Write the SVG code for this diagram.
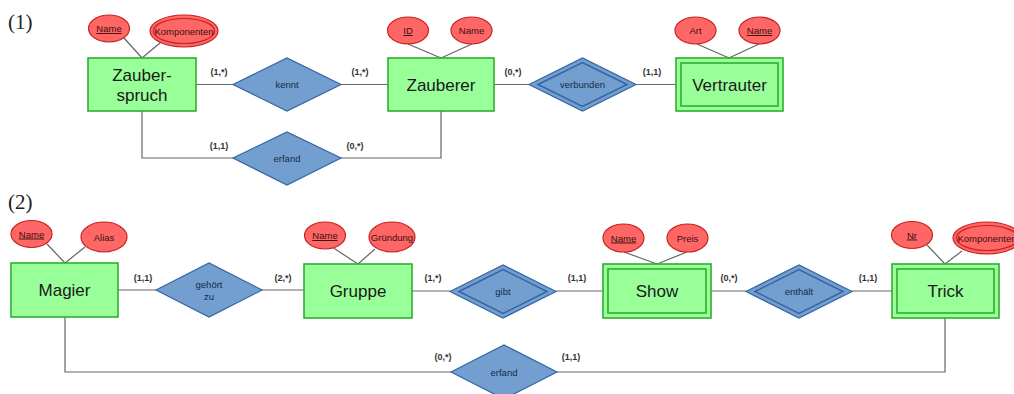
<svg xmlns="http://www.w3.org/2000/svg" width="1014" height="394" viewBox="0 0 1014 394">
<style>
.ent{fill:#99ff99;stroke:#2fae2f;stroke-width:1.6}
.inner{fill:none;stroke:#2fae2f;stroke-width:1.6}
.att{fill:#ff6666;stroke:#c9211e;stroke-width:1.2}
.attin{fill:none;stroke:#c9211e;stroke-width:1.2}
.rel{fill:#729fcf;stroke:#3465a4;stroke-width:1.2}
.relin{fill:none;stroke:#3465a4;stroke-width:1.5}
.ln{fill:none;stroke:#666;stroke-width:1.2}
.et{font-family:"Liberation Sans",Arial,sans-serif;font-size:17px;fill:#1a1a1a;text-anchor:middle}
.at{font-family:"Liberation Sans",Arial,sans-serif;font-size:9.5px;fill:#3a1010;text-anchor:middle}
.u{text-decoration:underline}
.rt{font-family:"Liberation Sans",Arial,sans-serif;font-size:9.5px;fill:#1a2a44;text-anchor:middle}
.ct{font-family:"Liberation Sans",Arial,sans-serif;font-size:9px;font-weight:bold;fill:#333;text-anchor:middle}
.num{font-family:"Liberation Serif","Times New Roman",serif;font-size:21px;fill:#222}
</style>
<text class="num" x="8" y="29">(1)</text>
<text class="num" x="8" y="209">(2)</text>
<g id="connectors">
<line class="ln" x1="124" y1="38" x2="142" y2="58"/>
<line class="ln" x1="160" y1="43" x2="142" y2="58"/>
<line class="ln" x1="408" y1="44" x2="441" y2="58"/>
<line class="ln" x1="472" y1="44" x2="441" y2="58"/>
<line class="ln" x1="697" y1="44" x2="729" y2="58"/>
<line class="ln" x1="759" y1="44" x2="729" y2="58"/>
<line class="ln" x1="196" y1="84.5" x2="233" y2="84.5"/>
<line class="ln" x1="341" y1="84.5" x2="388" y2="84.5"/>
<line class="ln" x1="494" y1="84.5" x2="529" y2="84.5"/>
<line class="ln" x1="636" y1="84.5" x2="676" y2="84.5"/>
<polyline class="ln" points="142,111 142,158 233,158"/>
<polyline class="ln" points="341,158 441,158 441,111"/>
<line class="ln" x1="47" y1="244" x2="65" y2="263"/>
<line class="ln" x1="85" y1="247" x2="65" y2="263"/>
<line class="ln" x1="332" y1="247" x2="358" y2="264"/>
<line class="ln" x1="375" y1="249" x2="358" y2="264"/>
<line class="ln" x1="624" y1="252" x2="657" y2="264"/>
<line class="ln" x1="687" y1="252" x2="657" y2="264"/>
<line class="ln" x1="927" y1="245" x2="945" y2="264"/>
<line class="ln" x1="962" y1="251" x2="945" y2="264"/>
<line class="ln" x1="118" y1="290" x2="156" y2="290"/>
<line class="ln" x1="262" y1="290" x2="304" y2="290"/>
<line class="ln" x1="412" y1="291" x2="450" y2="291"/>
<line class="ln" x1="556" y1="291" x2="603" y2="291"/>
<line class="ln" x1="711" y1="291" x2="746" y2="291"/>
<line class="ln" x1="852" y1="291" x2="892" y2="291"/>
<polyline class="ln" points="65,317 65,372 451,372"/>
<polyline class="ln" points="557,372 945,372 945,318"/>
<text class="ct" x="219" y="75">(1,*)</text>
<text class="ct" x="360" y="75">(1,*)</text>
<text class="ct" x="513" y="75">(0,*)</text>
<text class="ct" x="652" y="75">(1,1)</text>
<text class="ct" x="219" y="149">(1,1)</text>
<text class="ct" x="355" y="149">(0,*)</text>
<text class="ct" x="143" y="281">(1,1)</text>
<text class="ct" x="283" y="281">(2,*)</text>
<text class="ct" x="433" y="281">(1,*)</text>
<text class="ct" x="577" y="281">(1,1)</text>
<text class="ct" x="729" y="281">(0,*)</text>
<text class="ct" x="868" y="281">(1,1)</text>
<text class="ct" x="443" y="360">(0,*)</text>
<text class="ct" x="571" y="360">(1,1)</text>
</g>
<g id="zauberspruch">
<rect class="ent" x="88" y="58" width="108" height="53"/>
<text class="et" x="142" y="81">Zauber-</text>
<text class="et" x="142" y="101">spruch</text>
</g>
<g id="zs-name">
<ellipse class="att" cx="109" cy="28.5" rx="20.5" ry="13.5"/>
<text class="at u" x="109" y="32">Name</text>
</g>
<g id="zs-komponenten">
<ellipse class="att" cx="184" cy="31" rx="34" ry="16"/>
<ellipse class="attin" cx="184" cy="31" rx="30.5" ry="12.5"/>
<text class="at" x="184" y="34.5">Komponenten</text>
</g>
<g id="kennt">
<polygon class="rel" points="233,84.5 287,58 341,84.5 287,111"/>
<text class="rt" x="287" y="88">kennt</text>
</g>
<g id="erfand1">
<polygon class="rel" points="233,158 287,132 341,158 287,185"/>
<text class="rt" x="287" y="161.5">erfand</text>
</g>
<g id="zauberer">
<rect class="ent" x="388" y="58" width="106" height="53"/>
<text class="et" x="441" y="90.5">Zauberer</text>
</g>
<g id="zb-id">
<ellipse class="att" cx="408" cy="30.5" rx="20.5" ry="13.5"/>
<text class="at u" x="408" y="34">ID</text>
</g>
<g id="zb-name">
<ellipse class="att" cx="471.5" cy="30.5" rx="20.5" ry="13.5"/>
<text class="at" x="471.5" y="34">Name</text>
</g>
<g id="verbunden">
<polygon class="rel" points="529,84.5 582.5,58 636,84.5 582.5,111"/>
<polygon class="relin" points="538,84.5 582.5,62.5 627,84.5 582.5,106.5"/>
<text class="rt" x="582.5" y="88">verbunden</text>
</g>
<g id="vertrauter">
<rect class="ent" x="676" y="58" width="107" height="53"/>
<rect class="inner" x="681" y="63" width="97" height="43"/>
<text class="et" x="729.5" y="90.5">Vertrauter</text>
</g>
<g id="vt-art">
<ellipse class="att" cx="695.5" cy="30.5" rx="20.5" ry="13.5"/>
<text class="at" x="695.5" y="34">Art</text>
</g>
<g id="vt-name">
<ellipse class="att" cx="759.5" cy="30.5" rx="20.5" ry="13.5"/>
<text class="at u" x="759.5" y="34">Name</text>
</g>
<g id="magier">
<rect class="ent" x="11" y="263" width="107" height="54"/>
<text class="et" x="64.5" y="296">Magier</text>
</g>
<g id="mg-name">
<ellipse class="att" cx="31.5" cy="234" rx="20.5" ry="13.5"/>
<text class="at u" x="31.5" y="237.5">Name</text>
</g>
<g id="mg-alias">
<ellipse class="att" cx="104" cy="237" rx="23" ry="15"/>
<text class="at" x="104" y="240.5">Alias</text>
</g>
<g id="gehoert-zu">
<polygon class="rel" points="156,290 209,263 262,290 209,317"/>
<text class="rt" x="209" y="288">gehört</text>
<text class="rt" x="209" y="300">zu</text>
</g>
<g id="gruppe">
<rect class="ent" x="304" y="264" width="108" height="54"/>
<text class="et" x="358" y="297">Gruppe</text>
</g>
<g id="gr-name">
<ellipse class="att" cx="325" cy="235.5" rx="20.5" ry="13.5"/>
<text class="at u" x="325" y="239">Name</text>
</g>
<g id="gr-gruendung">
<ellipse class="att" cx="392" cy="237" rx="23" ry="15"/>
<text class="at" x="392" y="240.5">Gründung</text>
</g>
<g id="gibt">
<polygon class="rel" points="450,291.5 503,265 556,291.5 503,318"/>
<polygon class="relin" points="459,291.5 503,269.5 547,291.5 503,313.5"/>
<text class="rt" x="503" y="295">gibt</text>
</g>
<g id="show">
<rect class="ent" x="603" y="264" width="108" height="54"/>
<rect class="inner" x="608" y="269" width="98" height="44"/>
<text class="et" x="657" y="297">Show</text>
</g>
<g id="sh-name">
<ellipse class="att" cx="623.5" cy="238" rx="20.5" ry="14"/>
<text class="at u" x="623.5" y="241.5">Name</text>
</g>
<g id="sh-preis">
<ellipse class="att" cx="687.5" cy="238" rx="20.5" ry="14"/>
<text class="at" x="687.5" y="241.5">Preis</text>
</g>
<g id="enthaelt">
<polygon class="rel" points="746,291.5 799,265 852,291.5 799,318"/>
<polygon class="relin" points="755,291.5 799,269.5 843,291.5 799,313.5"/>
<text class="rt" x="799" y="295">enthält</text>
</g>
<g id="trick">
<rect class="ent" x="892" y="264" width="107" height="54"/>
<rect class="inner" x="897" y="269" width="97" height="44"/>
<text class="et" x="945.5" y="297">Trick</text>
</g>
<g id="tr-nr">
<ellipse class="att" cx="912" cy="235" rx="20.5" ry="13.5"/>
<text class="at u" x="912" y="238.5">Nr</text>
</g>
<g id="tr-komponenten">
<ellipse class="att" cx="987" cy="238" rx="34" ry="16"/>
<ellipse class="attin" cx="987" cy="238" rx="30.5" ry="12.5"/>
<text class="at" x="987" y="241.5">Komponenten</text>
</g>
<g id="erfand2">
<polygon class="rel" points="451,372 504,345 557,372 504,399"/>
<text class="rt" x="504" y="375.5">erfand</text>
</g>
</svg>
